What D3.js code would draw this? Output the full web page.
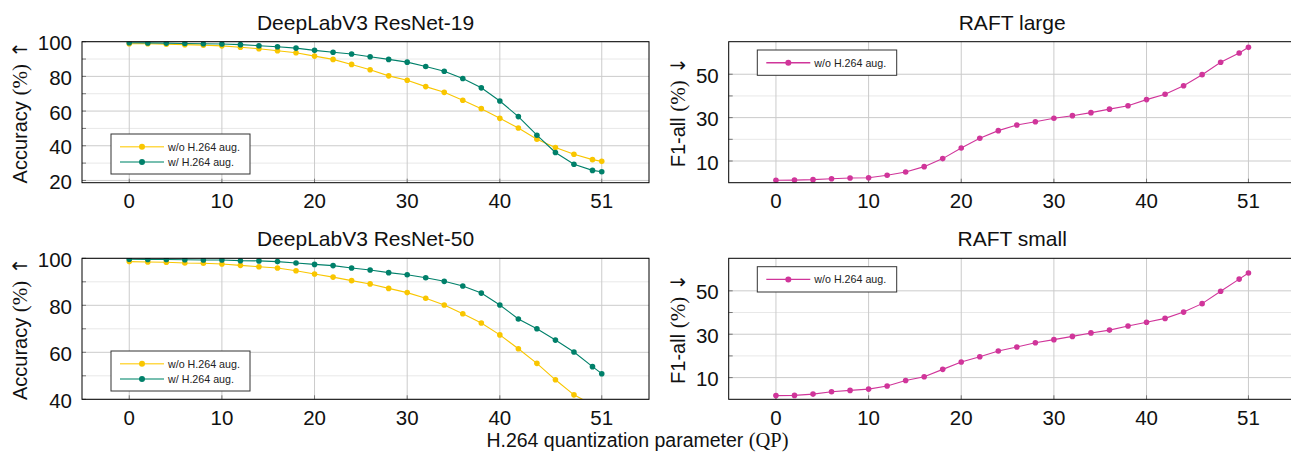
<!DOCTYPE html>
<html>
<head>
<meta charset="utf-8">
<script src="https://cdn.jsdelivr.net/npm/d3@7"></script>
<style>
  body { margin: 0; background: #fff; }
  svg { font-family: "Liberation Sans", Arial, Helvetica, sans-serif; }
</style>
</head>
<body>
<svg id="chart" width="1291" height="457"></svg>
<script>
// QP values sampled (x axis)
var qp = [0, 2, 4, 6, 8, 10, 12, 14, 16, 18, 20, 22, 24, 26, 28, 30, 32, 34, 36, 38, 40, 42, 44, 46, 48, 50, 51];
var xTicks = [0, 10, 20, 30, 40, 51];

// DeepLabV3 ResNet-19 accuracy (%)
var r19Without = [98.8, 98.8, 98.5, 98.3, 98.0, 97.6, 96.8, 95.9, 94.8, 93.6, 91.7, 89.8, 86.9, 83.8, 80.3, 77.8, 74.1, 70.8, 66.2, 61.4, 55.8, 50.2, 43.8, 39.0, 35.1, 32.0, 31.0];
var r19With    = [99.4, 99.3, 99.2, 99.0, 98.8, 98.7, 98.3, 97.7, 97.1, 96.3, 95.0, 93.9, 92.9, 91.3, 89.8, 88.2, 85.7, 83.0, 78.8, 73.4, 65.8, 56.8, 46.1, 36.1, 29.3, 25.8, 25.0];

// DeepLabV3 ResNet-50 accuracy (%)
var r50Without = [98.6, 98.4, 98.3, 98.0, 97.9, 97.6, 97.0, 96.4, 95.9, 94.7, 93.3, 92.0, 90.5, 89.1, 87.2, 85.4, 83.0, 80.1, 76.4, 72.5, 67.4, 61.5, 55.3, 48.3, 41.9, 37.7, 36.2];
var r50With    = [99.6, 99.5, 99.5, 99.4, 99.3, 99.3, 99.0, 98.9, 98.6, 98.0, 97.4, 96.9, 95.9, 95.0, 93.9, 93.0, 91.7, 90.2, 88.2, 85.2, 80.1, 74.2, 70.0, 65.2, 60.1, 53.9, 50.9];

// RAFT F1-all (%)
var raftLarge = [1.1, 1.2, 1.4, 1.8, 2.2, 2.3, 3.4, 4.9, 7.4, 11.1, 16.0, 20.5, 24.0, 26.6, 28.1, 29.7, 30.9, 32.3, 33.9, 35.5, 38.3, 40.8, 44.7, 49.8, 55.5, 59.8, 62.4];
var raftSmall = [1.7, 1.8, 2.4, 3.5, 4.1, 4.7, 6.1, 8.7, 10.4, 13.8, 17.2, 19.6, 22.3, 24.1, 26.1, 27.5, 29.0, 30.6, 31.9, 33.8, 35.5, 37.3, 40.2, 44.1, 49.8, 55.4, 58.2];

var accTicks = [20, 40, 60, 80, 100];
var accMinor = [30, 50, 70, 90];
var f1Ticks = [10, 30, 50];
var f1Minor = [20, 40];

var yellow = "#f9c600", teal = "#00806a", magenta = "#d0359a";

var svg = d3.select("#chart");

var panels = [
  {title: "DeepLabV3 ResNet-19", x0: 82, x1: 649, y0: 41.7, y1: 182.7, yDomain: [18.7, 100],
   ticks: accTicks, minor: accMinor, ylabel: "Accuracy ", arrow: " \u2191", labelX: 20,
   series: [{name: "w/o H.264 aug.", values: r19Without, color: yellow, legendColor: "#ffd94a"},
            {name: "w/ H.264 aug.", values: r19With, color: teal, legendColor: "#4aaa96"}],
   legend: {x: 111, y: 134, w: 139, h: 40}},
  {title: "DeepLabV3 ResNet-50", x0: 82, x1: 649, y0: 258.3, y1: 399.3, yDomain: [40, 100],
   ticks: accTicks, minor: accMinor, ylabel: "Accuracy ", arrow: " \u2191", labelX: 20,
   series: [{name: "w/o H.264 aug.", values: r50Without, color: yellow, legendColor: "#ffd94a"},
            {name: "w/ H.264 aug.", values: r50With, color: teal, legendColor: "#4aaa96"}],
   legend: {x: 111, y: 351, w: 139, h: 40}},
  {title: "RAFT large", x0: 728.7, x1: 1295.7, y0: 41.7, y1: 182.7, yDomain: [0, 65],
   ticks: f1Ticks, minor: f1Minor, ylabel: "F1-all ", arrow: " \u2193", labelX: 678,
   series: [{name: "w/o H.264 aug.", values: raftLarge, color: magenta, legendColor: magenta}],
   legend: {x: 757.3, y: 50, w: 139.4, h: 25.3}},
  {title: "RAFT small", x0: 728.7, x1: 1295.7, y0: 258.3, y1: 399.3, yDomain: [0, 65],
   ticks: f1Ticks, minor: f1Minor, ylabel: "F1-all ", arrow: " \u2193", labelX: 678,
   series: [{name: "w/o H.264 aug.", values: raftSmall, color: magenta, legendColor: magenta}],
   legend: {x: 757.3, y: 266.7, w: 139.4, h: 25.3}}
];

panels.forEach(function(p, i) {
  var x = d3.scaleLinear().domain([-5.1, 56.1]).range([p.x0, p.x1]);
  var y = d3.scaleLinear().domain(p.yDomain).range([p.y1, p.y0]);
  var inside = function(d) { return d >= p.yDomain[0] && d <= p.yDomain[1]; };
  var ticks = p.ticks.filter(inside);
  var minor = p.minor.filter(inside);
  var g = svg.append("g");

  // clip path for the data
  svg.append("clipPath").attr("id", "clip" + i)
    .append("rect").attr("x", p.x0).attr("y", p.y0)
    .attr("width", p.x1 - p.x0).attr("height", p.y1 - p.y0);

  // minor grid
  g.selectAll(".minor").data(minor).enter().append("line")
    .attr("x1", p.x0).attr("x2", p.x1)
    .attr("y1", function(d) { return y(d); }).attr("y2", function(d) { return y(d); })
    .attr("stroke", "#e8e8e8").attr("stroke-width", 1);

  // major grid
  g.selectAll(".hmajor").data(ticks).enter().append("line")
    .attr("x1", p.x0).attr("x2", p.x1)
    .attr("y1", function(d) { return y(d); }).attr("y2", function(d) { return y(d); })
    .attr("stroke", "#cbcbcb").attr("stroke-width", 1);
  g.selectAll(".vmajor").data(xTicks).enter().append("line")
    .attr("x1", function(d) { return x(d); }).attr("x2", function(d) { return x(d); })
    .attr("y1", p.y0).attr("y2", p.y1)
    .attr("stroke", "#cbcbcb").attr("stroke-width", 1);

  // tick marks inside the frame
  g.selectAll(".ytick").data(ticks.concat(minor)).enter().append("line")
    .attr("x1", p.x0).attr("x2", p.x0 + 4)
    .attr("y1", function(d) { return y(d); }).attr("y2", function(d) { return y(d); })
    .attr("stroke", "#777").attr("stroke-width", 1);
  g.selectAll(".xtick").data(xTicks).enter().append("line")
    .attr("x1", function(d) { return x(d); }).attr("x2", function(d) { return x(d); })
    .attr("y1", p.y1).attr("y2", p.y1 - 4)
    .attr("stroke", "#777").attr("stroke-width", 1);

  // data
  var dg = g.append("g").attr("clip-path", "url(#clip" + i + ")");
  p.series.forEach(function(s) {
    var pts = qp.map(function(q, k) { return [q, s.values[k]]; });
    dg.append("path")
      .datum(pts)
      .attr("d", d3.line().x(function(d) { return x(d[0]); }).y(function(d) { return y(d[1]); }))
      .attr("fill", "none").attr("stroke", s.color).attr("stroke-width", 1.1);
    dg.selectAll(null).data(pts).enter().append("circle")
      .attr("cx", function(d) { return x(d[0]); })
      .attr("cy", function(d) { return y(d[1]); })
      .attr("r", 2.8).attr("fill", s.color);
  });

  // frame
  g.append("rect").attr("x", p.x0).attr("y", p.y0)
    .attr("width", p.x1 - p.x0).attr("height", p.y1 - p.y0)
    .attr("fill", "none").attr("stroke", "#000").attr("stroke-width", 1);

  // tick labels
  g.selectAll(".ylab").data(ticks).enter().append("text")
    .attr("x", p.x0 - 10).attr("y", function(d) { return y(d); })
    .attr("dy", "0.42em").attr("text-anchor", "end")
    .style("font-size", "20.5px").attr("fill", "#111")
    .text(function(d) { return d; });
  g.selectAll(".xlab").data(xTicks).enter().append("text")
    .attr("x", function(d) { return x(d); }).attr("y", p.y1 + 25.5)
    .attr("text-anchor", "middle")
    .style("font-size", "20.5px").attr("fill", "#111")
    .text(function(d) { return d; });

  // title
  g.append("text")
    .attr("x", (p.x0 + p.x1) / 2).attr("y", p.y0 - 12)
    .attr("text-anchor", "middle")
    .style("font-size", "21px").attr("fill", "#111")
    .text(p.title);

  // y label
  var yl = g.append("text")
    .attr("transform", "translate(" + p.labelX + "," + ((p.y0 + p.y1) / 2) + ") rotate(-90)")
    .attr("dy", "0.35em").attr("text-anchor", "middle")
    .style("font-size", "20px").attr("fill", "#111");
  yl.append("tspan").text(p.ylabel);
  yl.append("tspan").style("font-family", "'Liberation Serif', serif").style("font-size", "21px").text("(%)");
  yl.append("tspan").style("font-family", "'DejaVu Sans', sans-serif").text(p.arrow);

  // legend
  var L = p.legend;
  var lg = g.append("g");
  lg.append("rect").attr("x", L.x).attr("y", L.y).attr("width", L.w).attr("height", L.h)
    .attr("fill", "#fff").attr("stroke", "#333").attr("stroke-width", 1);
  p.series.forEach(function(s, k) {
    var cy = L.y + 12.7 + k * 15.3;
    lg.append("line").attr("x1", L.x + 9).attr("x2", L.x + 53)
      .attr("y1", cy).attr("y2", cy)
      .attr("stroke", s.legendColor).attr("stroke-width", 1.4);
    lg.append("circle").attr("cx", L.x + 31).attr("cy", cy).attr("r", 3).attr("fill", s.color);
    lg.append("text").attr("x", L.x + 57).attr("y", cy).attr("dy", "0.36em")
      .style("font-size", "10.7px").attr("fill", "#222").text(s.name);
  });
});

// shared x label
var xl = svg.append("text")
  .attr("x", 637.5).attr("y", 447)
  .attr("text-anchor", "middle")
  .style("font-size", "19.5px").attr("fill", "#111");
xl.append("tspan").text("H.264 quantization parameter ");
xl.append("tspan").style("font-family", "'Liberation Serif', serif").style("font-size", "20.5px").text("(QP)");
</script>
</body>
</html>
